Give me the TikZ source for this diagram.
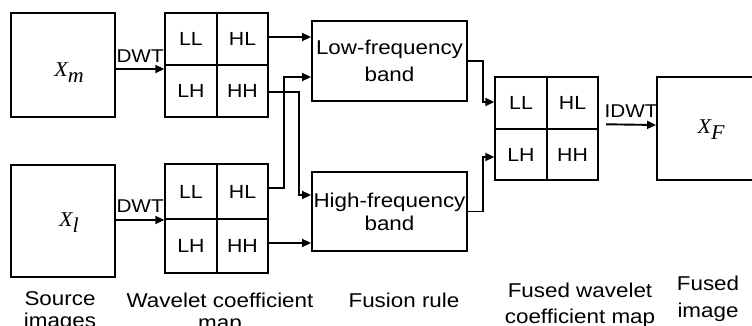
\documentclass[tikz,border=0pt]{standalone}
\usepackage{fontspec}
\setmainfont{Liberation Sans}[FakeStretch=1.12]
\newfontfamily\serifit{Liberation Serif}[FakeStretch=1.05]
\usetikzlibrary{arrows.meta}
\newcommand\imgsym[2]{{\serifit\itshape\fontsize{21}{21}\selectfont #1\raisebox{-6pt}{#2}}}
\begin{document}
\begin{tikzpicture}[x=1pt,y=-1pt,line width=1.9pt,
  imgbox/.style={draw, minimum width=104pt, minimum height=104pt, inner sep=0pt},
  cell/.style={draw, minimum width=51.5pt, minimum height=52pt, inner sep=0pt, font=\fontsize{19}{20}\selectfont},
  band/.style={draw, minimum width=155pt, minimum height=80pt, inner sep=0pt, align=center, font=\fontsize{20}{22}\selectfont},
  arr/.style={-{Triangle[length=9pt,width=8pt]}},
  lbl/.style={align=center, inner sep=0pt, font=\fontsize{20}{22}\selectfont},
  tag/.style={inner sep=0pt, font=\fontsize{18.5}{20}\selectfont}]
\useasboundingbox (0,0) rectangle (752,326);
\clip (0,0) rectangle (752,326);
% source images
\node[imgbox] (xm) at (63,65) {};
\node (xmt) at ([xshift=6pt,yshift=-8pt]xm.center) {\imgsym{X}{m}};
\node[imgbox, minimum height=112pt] (xl) at (63,221) {};
\node (xlt) at ([xshift=6pt,yshift=-2pt]xl.center) {\imgsym{X}{l}};
% wavelet coefficient maps
\node[cell] (mTLL) at (191,39) {LL};
\node[cell] (mTHL) at (242.5,39) {HL};
\node[cell] (mTLH) at (191,91) {LH};
\node[cell] (mTHH) at (242.5,91) {HH};
\node[cell, minimum height=54.5pt] (mBLL) at (191,191.5) {LL};
\node[cell, minimum height=54.5pt] (mBHL) at (242.5,191.5) {HL};
\node[cell, minimum height=54.5pt] (mBLH) at (191,246) {LH};
\node[cell, minimum height=54.5pt] (mBHH) at (242.5,246) {HH};
% fusion rule
\node[band] (lowB) at (389.5,61) {Low-frequency\\[5pt]band};
\node[band, minimum height=79pt] (highB) at (389.5,211.5) {High-frequency\\[1pt]band};
% fused map
\node[cell, minimum height=51.5pt] (fLL) at (521,103) {LL};
\node[cell, minimum height=51.5pt] (fHL) at (572.5,103) {HL};
\node[cell, minimum height=51.5pt] (fLH) at (521,154.5) {LH};
\node[cell, minimum height=51.5pt] (fHH) at (572.5,154.5) {HH};
% fused image
\node[imgbox, minimum height=103pt] (xF) at (709,128.5) {};
\node (xFt) at ([xshift=2pt,yshift=-1.5pt]xF.center) {\imgsym{X}{F}};
% connectors
\draw[arr] ([yshift=-4pt]xm.east) -- ([yshift=-4pt]xm.east -| mTLL.west)
  node[midway, above=6pt, tag] {DWT};
\draw[arr] ([yshift=1pt]xl.east) -- ([yshift=1pt]xl.east -| mBLL.west)
  node[midway, above=7pt, tag] {DWT};
\draw[arr] ([yshift=2pt]mTHL.east) -- ([yshift=2pt]mTHL.east -| lowB.west);
\draw[arr] ([yshift=-1pt]mTHH.east) -- ++(30,0) |- ([yshift=16.5pt]highB.west);
\draw[arr] ([yshift=3.5pt]mBHL.east) -- ++(15,0) |- ([yshift=-16pt]lowB.west);
\draw[arr] ([yshift=3pt]mBHH.east) -- ([yshift=3pt]mBHH.east -| highB.west);
\draw[arr] (lowB.east) -- ++(15,0) |- ([yshift=1pt]fLL.west);
\draw[arr] (highB.east) -- ++(15,0) |- ([yshift=-2.5pt]fLH.west);
\draw[arr] ([xshift=7pt,yshift=3.5pt]fHH.north east) -- ([yshift=3.5pt]xF.west)
  node[midway, above=6pt, tag] {IDWT};
% bottom labels (base = baseline of the last line)
\node[lbl, anchor=base] (c1) at (60,327) {Source\\images};
\node[lbl, anchor=base] (c2) at (220,329) {Wavelet coefficient\\map};
\node[lbl, anchor=base] (c3) at (404,307) {Fusion rule};
\node[lbl, anchor=base] (c4) at (580,323) {Fused wavelet\\[4pt]coefficient map};
\node[lbl, anchor=base] (c5) at (708,317) {Fused\\[5pt]image};
\end{tikzpicture}
\end{document}
